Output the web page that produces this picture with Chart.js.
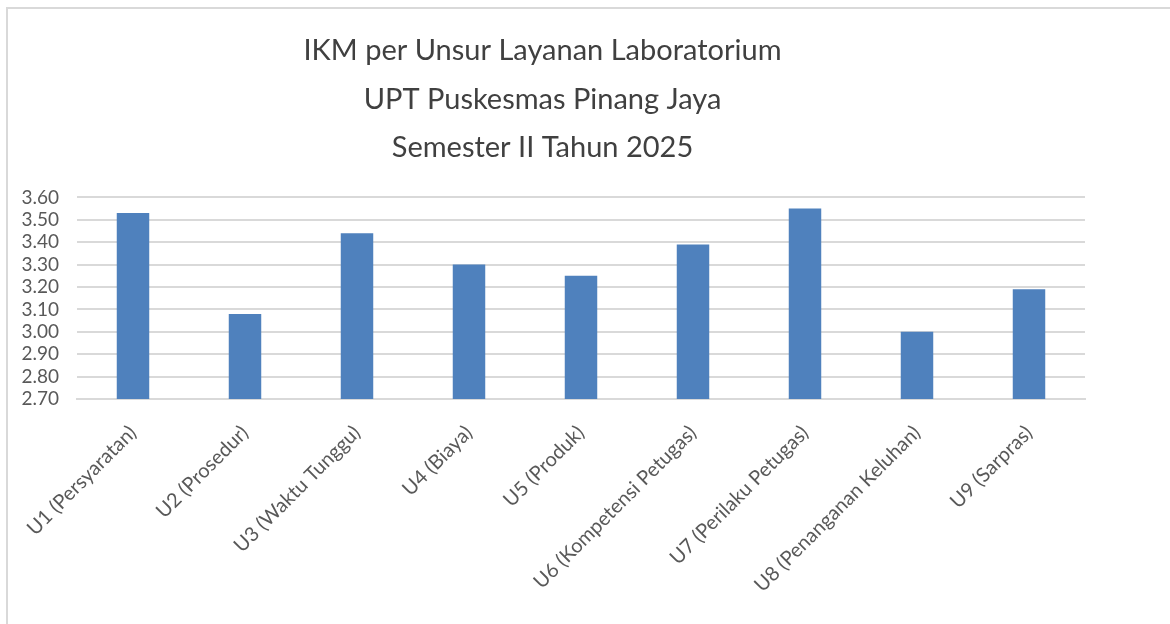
<!DOCTYPE html>
<html>
<head>
<meta charset="utf-8">
<script src="https://cdn.jsdelivr.net/npm/chart.js@4"></script>
<style>
  html, body { margin: 0; padding: 0; background: #fff; }
  #wrap { position: relative; width: 1170px; height: 624px; overflow: hidden; }
  #frame { position: absolute; left: 6px; top: 7px; width: 1200px; height: 700px;
           border-top: 2px solid #d9d9d9; border-left: 2px solid #d9d9d9; box-sizing: border-box; }
  canvas { position: absolute; left: 0; top: 0; }
</style>
</head>
<body>
<div id="wrap">
  <div id="frame"></div>
  <canvas id="chart" width="1170" height="624"></canvas>
</div>
<script>
// data
const categories = ['U1 (Persyaratan)', 'U2 (Prosedur)', 'U3 (Waktu Tunggu)', 'U4 (Biaya)', 'U5 (Produk)',
    'U6 (Kompetensi Petugas)', 'U7 (Perilaku Petugas)', 'U8 (Penanganan Keluhan)', 'U9 (Sarpras)'];
const ikmValues = [3.53, 3.08, 3.44, 3.30, 3.25, 3.39, 3.55, 3.00, 3.19];
const titleLines = ['IKM per Unsur Layanan Laboratorium', 'UPT Puskesmas Pinang Jaya', 'Semester II Tahun 2025'];
const yMin = 2.7, yMax = 3.6, yStep = 0.1;

const fontFamily = 'Lato, "Open Sans", sans-serif';

const ctx = document.getElementById('chart').getContext('2d');
new Chart(ctx, {
    type: 'bar',
    data: {
        labels: categories,
        datasets: [{
            data: ikmValues,
            backgroundColor: '#4f81bd',
            borderWidth: 0,
            barPercentage: 0.29,
            categoryPercentage: 1.0
        }]
    },
    options: {
        responsive: false,
        animation: false,
        layout: { padding: { left: 0, right: 85, top: 0, bottom: 0 } },
        plugins: {
            legend: { display: false },
            tooltip: { enabled: false },
            title: {
                display: true,
                text: titleLines,
                color: '#404040',
                font: { family: fontFamily, size: 29, weight: 'normal', lineHeight: 1.66 },
                padding: { top: 27, bottom: 26 }
            }
        },
        scales: {
            x: {
                grid: { display: false },
                border: { color: '#d9d9d9', width: 2 },
                ticks: {
                    color: '#595959',
                    font: { family: fontFamily, size: 20 },
                    minRotation: 45,
                    maxRotation: 45,
                    autoSkip: false,
                    padding: 14
                },
                afterFit: function (scale) { scale.height = 225; }
            },
            y: {
                min: yMin,
                max: yMax,
                grid: { color: '#d9d9d9', lineWidth: 2, drawTicks: false },
                border: { display: false },
                ticks: {
                    stepSize: yStep,
                    autoSkip: false,
                    color: '#595959',
                    font: { family: fontFamily, size: 19 },
                    padding: 18,
                    callback: function (v) { return v.toFixed(2); }
                },
                afterFit: function (scale) { scale.width = 77; }
            }
        }
    }
});
</script>
</body>
</html>
